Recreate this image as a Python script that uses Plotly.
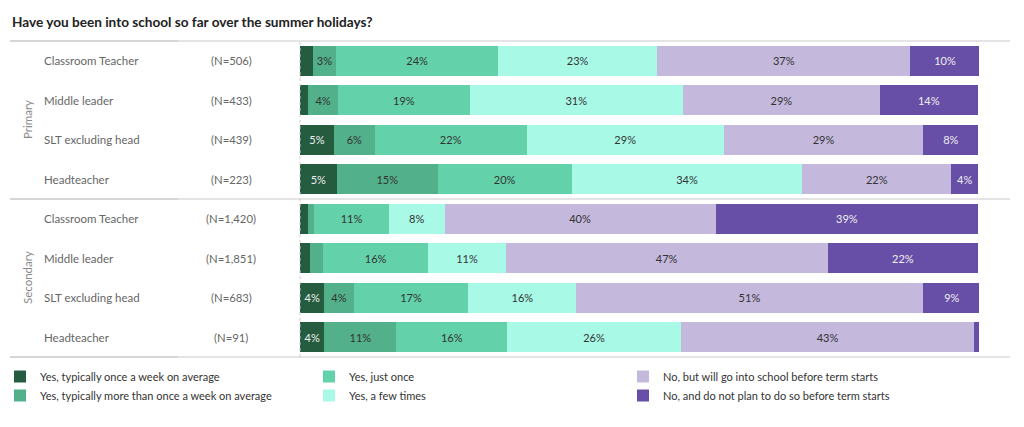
import plotly.graph_objects as go

title = "Have you been into school so far over the summer holidays?"
groups = ["Primary", "Secondary"]
roles = ["Classroom Teacher", "Middle leader", "SLT excluding head", "Headteacher"]
primary_n = ["(N=506)", "(N=433)", "(N=439)", "(N=223)"]
secondary_n = ["(N=1,420)", "(N=1,851)", "(N=683)", "(N=91)"]

series_names = [
    "Yes, typically once a week on average",
    "Yes, typically more than once a week on average",
    "Yes, just once",
    "Yes, a few times",
    "No, but will go into school before term starts",
    "No, and do not plan to do so before term starts",
]
# rows: Primary (CT, ML, SLT, Head), Secondary (CT, ML, SLT, Head)
once_week = [1.9, 1.2, 5.0, 5.4, 1.2, 1.5, 3.6, 3.6]
more_than_once_week = [3.4, 4.4, 6.0, 14.9, 0.9, 1.9, 4.3, 10.6]
just_once = [23.9, 19.4, 22.4, 19.7, 11.0, 15.5, 16.9, 16.3]
few_times = [23.4, 31.4, 29.0, 34.0, 8.2, 11.4, 15.9, 25.6]
no_but_will = [37.3, 29.0, 29.4, 21.9, 39.9, 47.4, 51.0, 43.2]
no_not_plan = [10.2, 14.4, 8.1, 4.0, 38.7, 22.2, 8.6, 0.7]

series_values = [once_week, more_than_once_week, just_once, few_times, no_but_will, no_not_plan]
colors = ["#255c40", "#52b08a", "#63d1a9", "#a8f9e6", "#c4b8dc", "#674ea7"]
text_colors = ["#f0f0f0", "#333333", "#333333", "#333333", "#333333", "#f0f0f0"]
legend_ids = ["legend", "legend", "legend2", "legend2", "legend3", "legend3"]

row_keys = [f"{g}|{r}" for g in groups for r in roles]
n_labels = primary_n + secondary_n

FONT = "Lato"
fig = go.Figure()
for name, vals, col, tcol, lg in zip(series_names, series_values, colors, text_colors, legend_ids):
    fig.add_trace(go.Bar(
        orientation="h", y=row_keys, x=vals, name=name,
        marker=dict(color=col, line=dict(width=0)),
        text=[f"{round(v)}%" if v >= 3 else "" for v in vals],
        textposition="inside", insidetextanchor="middle", textangle=0,
        textfont=dict(family=FONT, size=11, color=tcol),
        legend=lg, hoverinfo="skip",
    ))

L, R, T, B = 300, 45, 41, 70
W, H = 1024, 427
pw = W - L - R

def px2paper(px):
    return (px - L) / pw

annotations = []
for key, role, n in zip(row_keys, roles * 2, n_labels):
    annotations.append(dict(x=px2paper(42), y=key, xref="paper", yref="y", text=role,
                            showarrow=False, xanchor="left", yanchor="middle",
                            font=dict(family=FONT, size=11.5, color="#666666")))
    annotations.append(dict(x=px2paper(231), y=key, xref="paper", yref="y", text=n,
                            showarrow=False, xanchor="center", yanchor="middle",
                            font=dict(family=FONT, size=11.3, color="#666666")))
for g, yp in zip(groups, [0.75, 0.25]):
    annotations.append(dict(x=px2paper(27), y=yp, xref="paper", yref="paper", text=g,
                            showarrow=False, textangle=-90, xanchor="center", yanchor="middle",
                            font=dict(family=FONT, size=11.5, color="#888888")))

shapes = []
for yp in [1, 0.5, 0]:
    shapes.append(dict(type="line", xref="paper", yref="paper", x0=px2paper(10), x1=px2paper(1010),
                       y0=yp, y1=yp, line=dict(color="#e4e4e4", width=2)))
    shapes.append(dict(type="line", xref="paper", yref="paper", x0=px2paper(10), x1=px2paper(178),
                       y0=yp, y1=yp, line=dict(color="#d6d6d6", width=2)))
shapes.append(dict(type="line", xref="paper", yref="paper", x0=0, x1=0, y0=0, y1=1,
                   line=dict(color="#cccccc", width=1, dash="dot")))

def legend_cfg(px):
    return dict(x=px / W, xref="container", y=1 - 362 / H, yref="container",
                xanchor="left", yanchor="top", orientation="v",
                font=dict(family=FONT, size=11, color="#333333"),
                bgcolor="rgba(0,0,0,0)", traceorder="normal", tracegroupgap=0)

fig.update_layout(
    width=W, height=H,
    margin=dict(l=L, r=R, t=T, b=B, autoexpand=False),
    paper_bgcolor="white", plot_bgcolor="white",
    barmode="stack", bargap=0.24,
    title=dict(text=f"<b>{title}</b>", x=12 / W, xanchor="left", xref="container",
               y=1 - 22 / H, yanchor="middle", yref="container",
               font=dict(family=FONT, size=13.6, color="#222222")),
    xaxis=dict(range=[0, 100], visible=False, fixedrange=True),
    yaxis=dict(autorange="reversed", showticklabels=False, showgrid=False,
               zeroline=False, showline=False, ticks="", fixedrange=True),
    showlegend=True,
    legend=legend_cfg(0),
    legend2=legend_cfg(309),
    legend3=legend_cfg(623),
    annotations=annotations,
    shapes=shapes,
    font=dict(family=FONT),
)

fig.write_html("out.html", post_script="document.body.style.margin='0';",
               config={"displayModeBar": False})
